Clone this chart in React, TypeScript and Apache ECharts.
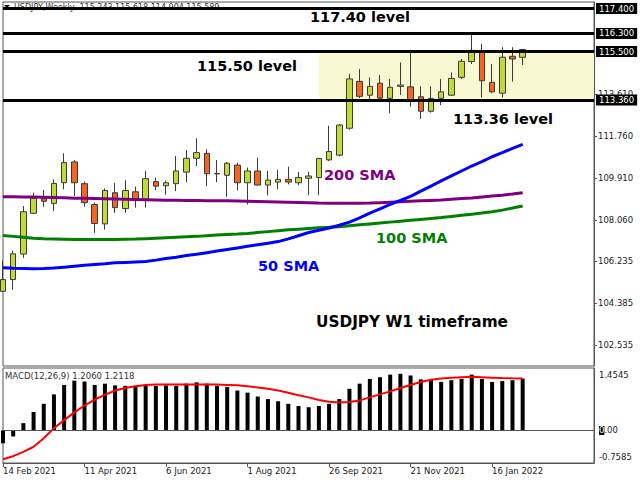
import React, { useEffect, useRef } from "react";
import * as echarts from "echarts";

// ---- data ----
const xTickLabels = ["14 Feb 2021", "11 Apr 2021", "6 Jun 2021", "1 Aug 2021", "26 Sep 2021", "21 Nov 2021", "16 Jan 2022"];
const slotCount = 59; // weekly slots on the time axis (52 bars + empty space)
const categories = Array.from({ length: slotCount }, (_, i) => String(i));

const opens = [104.90, 105.42, 106.55, 108.35, 109.00, 108.79, 109.70, 110.62, 109.66, 108.74, 107.88, 109.26, 108.56, 109.30, 108.97, 109.75, 109.57, 109.66, 110.17, 110.78, 111.00, 110.09, 110.03, 110.48, 109.70, 110.22, 109.60, 109.73, 109.85, 109.70, 109.90, 109.93, 110.71, 110.92, 112.11, 114.18, 113.57, 114.10, 113.43, 113.96, 113.94, 113.50, 112.86, 113.43, 113.57, 114.36, 115.06, 115.50, 114.14, 113.66, 115.29, 115.243];
const closes = [105.42, 106.56, 108.42, 109.01, 108.88, 109.67, 110.59, 109.70, 108.82, 107.90, 109.36, 108.60, 109.36, 108.97, 109.88, 109.55, 109.70, 110.22, 110.78, 111.03, 110.10, 110.11, 110.56, 109.70, 110.22, 109.60, 109.82, 109.85, 109.73, 109.93, 110.00, 110.77, 111.08, 112.25, 114.29, 113.52, 113.96, 113.44, 113.92, 114.02, 113.33, 112.86, 113.43, 113.72, 114.31, 115.07, 115.55, 114.21, 113.72, 115.25, 115.17, 115.589];
const lows = [104.87, 104.97, 106.38, 108.33, 108.64, 108.45, 109.41, 109.11, 108.64, 107.49, 107.63, 108.37, 108.37, 108.60, 108.60, 109.38, 109.18, 109.33, 109.73, 110.44, 109.55, 109.73, 109.08, 109.36, 108.74, 109.58, 109.14, 109.41, 109.63, 109.59, 109.15, 109.15, 110.66, 110.86, 112.05, 113.45, 113.28, 113.35, 112.77, 113.58, 113.07, 112.52, 112.80, 113.13, 113.55, 114.28, 114.95, 113.47, 113.66, 113.47, 114.17, 114.904];
const highs = [106.25, 106.70, 108.67, 109.26, 109.38, 109.85, 111.00, 110.70, 109.75, 108.82, 109.45, 109.70, 109.81, 109.53, 110.22, 109.93, 109.80, 110.88, 111.15, 111.67, 111.18, 110.71, 110.62, 110.59, 110.37, 110.81, 110.22, 110.26, 110.41, 110.18, 110.18, 110.80, 112.22, 112.29, 114.51, 114.73, 114.36, 114.46, 114.29, 115.02, 115.50, 113.96, 113.96, 114.29, 114.58, 115.17, 116.35, 115.84, 114.95, 115.69, 115.69, 115.618];

const sma50 = [105.94, 105.92, 105.91, 105.90, 105.91, 105.93, 105.97, 106.01, 106.05, 106.09, 106.12, 106.16, 106.18, 106.20, 106.22, 106.28, 106.35, 106.41, 106.48, 106.54, 106.61, 106.68, 106.75, 106.82, 106.89, 106.96, 107.03, 107.10, 107.22, 107.36, 107.50, 107.60, 107.70, 107.82, 107.96, 108.15, 108.36, 108.55, 108.74, 108.92, 109.10, 109.33, 109.55, 109.78, 110.00, 110.22, 110.44, 110.63, 110.85, 111.03, 111.22, 111.40];
const sma100 = [107.37, 107.33, 107.29, 107.25, 107.22, 107.21, 107.20, 107.19, 107.19, 107.19, 107.19, 107.19, 107.20, 107.21, 107.23, 107.25, 107.27, 107.29, 107.31, 107.33, 107.36, 107.39, 107.41, 107.43, 107.46, 107.50, 107.54, 107.58, 107.62, 107.65, 107.68, 107.71, 107.73, 107.76, 107.80, 107.84, 107.88, 107.92, 107.96, 108.00, 108.04, 108.08, 108.12, 108.16, 108.21, 108.26, 108.31, 108.36, 108.42, 108.49, 108.58, 108.67];
const sma200 = [109.08, 109.08, 109.07, 109.07, 109.06, 109.05, 109.04, 109.02, 109.01, 109.00, 108.99, 108.98, 108.97, 108.96, 108.95, 108.94, 108.93, 108.93, 108.92, 108.92, 108.91, 108.91, 108.90, 108.89, 108.88, 108.87, 108.86, 108.85, 108.84, 108.83, 108.82, 108.80, 108.79, 108.79, 108.79, 108.79, 108.80, 108.82, 108.84, 108.86, 108.88, 108.90, 108.92, 108.94, 108.97, 109.00, 109.03, 109.07, 109.11, 109.15, 109.20, 109.26];

const macdHist = [-0.30, -0.14, 0.17, 0.43, 0.62, 0.84, 1.06, 1.16, 1.14, 1.06, 1.09, 1.05, 1.04, 1.04, 1.06, 1.04, 1.05, 1.04, 1.09, 1.12, 1.09, 1.04, 1.01, 0.93, 0.88, 0.79, 0.73, 0.68, 0.62, 0.57, 0.54, 0.57, 0.62, 0.73, 0.97, 1.09, 1.20, 1.24, 1.30, 1.32, 1.28, 1.19, 1.18, 1.13, 1.17, 1.20, 1.30, 1.20, 1.13, 1.15, 1.17, 1.206];
const macdSignal = [-0.67, -0.60, -0.50, -0.38, -0.18, 0.05, 0.24, 0.42, 0.58, 0.72, 0.83, 0.93, 0.99, 1.03, 1.06, 1.07, 1.07, 1.07, 1.07, 1.07, 1.07, 1.07, 1.06, 1.05, 1.03, 1.00, 0.97, 0.93, 0.88, 0.82, 0.77, 0.71, 0.67, 0.65, 0.66, 0.70, 0.77, 0.84, 0.91, 0.99, 1.06, 1.13, 1.18, 1.21, 1.23, 1.24, 1.25, 1.24, 1.23, 1.22, 1.215, 1.2118];

const levelValues = [117.4, 116.3, 115.5, 113.36];
const zoneLow = 113.36;
const zoneHigh = 115.5;
const zoneStartIndex = 31;
const priceTicks = [113.61, 111.76, 109.91, 108.06, 106.235, 104.385, 102.535];
const macdTicks = [1.4545, 0, -0.7585];
const priceMin = 101.6;
const priceMax = 117.69;
const macdMin = -0.7585;
const macdMax = 1.4545;

const SMALL = 8.5;
const SMALL_FONT = "DejaVu Sans";
const BIG_FONT = 'bold 14.5px "DejaVu Sans"';

export default function App() {
  const ref = useRef<HTMLDivElement>(null);
  useEffect(() => {
    if (!ref.current) return;
    const chart = echarts.init(ref.current, undefined, { renderer: "svg" });
    const tickShown = (i: number) => i % 8 === 0 && i / 8 < xTickLabels.length;
    const option: any = {
      animation: false,
      backgroundColor: "#ffffff",
      textStyle: { fontFamily: SMALL_FONT },
      grid: [
        { left: 3, right: 46, top: 2, height: 364, show: true, borderColor: "#555", borderWidth: 1, backgroundColor: "transparent" },
        { left: 3, right: 46, top: 368, height: 95, show: true, borderColor: "#555", borderWidth: 1, backgroundColor: "transparent" },
      ],
      xAxis: [
        { type: "category", gridIndex: 0, data: categories, boundaryGap: false, show: false },
        {
          type: "category",
          gridIndex: 1,
          data: categories,
          boundaryGap: false,
          axisLine: { onZero: false, lineStyle: { color: "#555" } },
          axisTick: { interval: (i: number) => tickShown(i), length: 4, lineStyle: { color: "#555" } },
          axisLabel: {
            interval: (i: number) => tickShown(i),
            formatter: (v: string) => {
              const i = Number(v);
              return tickShown(i) ? xTickLabels[i / 8] : "";
            },
            align: "left",
            color: "#222",
            fontSize: SMALL,
            fontFamily: SMALL_FONT,
            margin: 3,
          },
          splitLine: { show: false },
        },
      ],
      yAxis: [
        {
          type: "value",
          gridIndex: 0,
          position: "right",
          min: priceMin,
          max: priceMax,
          splitLine: { show: false },
          axisLine: { show: true, lineStyle: { color: "#555" } },
          axisTick: { show: true, length: 3, customValues: priceTicks, lineStyle: { color: "#555" } },
          axisLabel: {
            customValues: priceTicks,
            formatter: (v: number) => v.toFixed(3),
            color: "#222",
            fontSize: SMALL,
            fontFamily: SMALL_FONT,
            margin: 4,
          },
        },
        {
          type: "value",
          gridIndex: 1,
          position: "right",
          min: macdMin,
          max: macdMax,
          splitLine: { show: false },
          axisLine: { show: true, lineStyle: { color: "#555" } },
          axisTick: { show: false },
          axisLabel: {
            customValues: macdTicks,
            formatter: (v: number) => (v > 0.5 ? "{t|" + v.toFixed(4) + "}" : v < 0 ? "{b|" + v.toFixed(4) + "}" : "{z|0}{n|.00}"),
            color: "#222",
            fontSize: SMALL,
            fontFamily: SMALL_FONT,
            margin: 5,
            rich: {
              t: { fontSize: SMALL, fontFamily: SMALL_FONT, color: "#222", padding: [14, 0, 0, 0] },
              b: { fontSize: SMALL, fontFamily: SMALL_FONT, color: "#222", padding: [0, 0, 12, 0] },
              z: { fontSize: SMALL, fontFamily: SMALL_FONT, color: "#fff", backgroundColor: "#000" },
              n: { fontSize: SMALL, fontFamily: SMALL_FONT, color: "#222" },
            },
          },
        },
      ],
      series: [
        {
          name: "zone",
          type: "line",
          xAxisIndex: 0,
          yAxisIndex: 0,
          data: [],
          z: 1,
          silent: true,
          markArea: {
            silent: true,
            itemStyle: { color: "#f8f8d2" },
            data: [[{ xAxis: String(zoneStartIndex), yAxis: zoneHigh }, { xAxis: String(slotCount - 1), yAxis: zoneLow }]],
          },
        },
        {
          name: "USDJPY",
          type: "candlestick",
          xAxisIndex: 0,
          yAxisIndex: 0,
          z: 3,
          barWidth: 6,
          data: opens.map((o, i) => [o, closes[i], lows[i], highs[i]]),
          itemStyle: {
            color: "#c2d93a",
            color0: "#f26522",
            borderColor: "#3a3a3a",
            borderColor0: "#3a3a3a",
            borderWidth: 1,
          },
        },
        { name: "SMA200", type: "line", xAxisIndex: 0, yAxisIndex: 0, z: 4, data: sma200, symbol: "none", lineStyle: { color: "#800080", width: 3 } },
        { name: "SMA100", type: "line", xAxisIndex: 0, yAxisIndex: 0, z: 4, data: sma100, symbol: "none", lineStyle: { color: "#008000", width: 3 } },
        { name: "SMA50", type: "line", xAxisIndex: 0, yAxisIndex: 0, z: 4, data: sma50, symbol: "none", lineStyle: { color: "#0000ff", width: 3 } },
        {
          name: "levels",
          type: "line",
          xAxisIndex: 0,
          yAxisIndex: 0,
          data: [],
          z: 5,
          markLine: {
            silent: true,
            symbol: "none",
            lineStyle: { color: "#000", width: 3, type: "solid" },
            label: {
              show: true,
              position: "end",
              distance: 2,
              formatter: (p: any) => Number(p.value).toFixed(3),
              backgroundColor: "#000",
              color: "#fff",
              padding: [1, 3, 1, 3],
              fontSize: SMALL,
              fontFamily: SMALL_FONT,
            },
            data: levelValues.map((v) => ({ yAxis: v })),
          },
        },
        {
          name: "MACD",
          type: "bar",
          xAxisIndex: 1,
          yAxisIndex: 1,
          data: macdHist,
          barWidth: 4,
          itemStyle: { color: "#000" },
          markLine: {
            silent: true,
            symbol: "none",
            label: { show: false },
            lineStyle: { color: "#555", width: 1, type: "solid" },
            data: [{ yAxis: 0 }],
          },
        },
        {
          name: "Signal",
          type: "line",
          xAxisIndex: 1,
          yAxisIndex: 1,
          data: macdSignal,
          symbol: "none",
          z: 4,
          lineStyle: { color: "#ff0000", width: 2 },
        },
      ],
      graphic: [
        { type: "polygon", z: 0, shape: { points: [[4, 5], [10, 5], [7, 8]] }, style: { fill: "#000" } },
        { type: "text", z: 0, x: 14, y: 7, style: { text: "USDJPY,Weekly  115.243 115.618 114.904 115.589", fill: "#333", font: `8px "${SMALL_FONT}"`, verticalAlign: "middle" } },
        { type: "text", z: 10, x: 310, y: 17, style: { text: "117.40 level", fill: "#000", font: BIG_FONT, verticalAlign: "middle" } },
        { type: "text", z: 10, x: 197, y: 66, style: { text: "115.50 level", fill: "#000", font: BIG_FONT, verticalAlign: "middle" } },
        { type: "text", z: 10, x: 453, y: 119, style: { text: "113.36 level", fill: "#000", font: BIG_FONT, verticalAlign: "middle" } },
        { type: "text", z: 10, x: 324, y: 175, style: { text: "200 SMA", fill: "#800080", font: BIG_FONT, verticalAlign: "middle" } },
        { type: "text", z: 10, x: 376, y: 238, style: { text: "100 SMA", fill: "#008000", font: BIG_FONT, verticalAlign: "middle" } },
        { type: "text", z: 10, x: 258, y: 266, style: { text: "50 SMA", fill: "#0000ff", font: BIG_FONT, verticalAlign: "middle" } },
        { type: "text", z: 10, x: 316, y: 322, style: { text: "USDJPY W1 timeframe", fill: "#000", font: 'bold 15.3px "DejaVu Sans"', verticalAlign: "middle" } },
        { type: "text", z: 10, x: 5, y: 376, style: { text: "MACD(12,26,9) 1.2060 1.2118", fill: "#333", font: `${SMALL}px "${SMALL_FONT}"`, verticalAlign: "middle" } },
      ],
    };
    chart.setOption(option);
    return () => chart.dispose();
  }, []);
  return <div ref={ref} style={{ position: "absolute", left: 0, top: 0, width: 640, height: 480 }} />;
}
